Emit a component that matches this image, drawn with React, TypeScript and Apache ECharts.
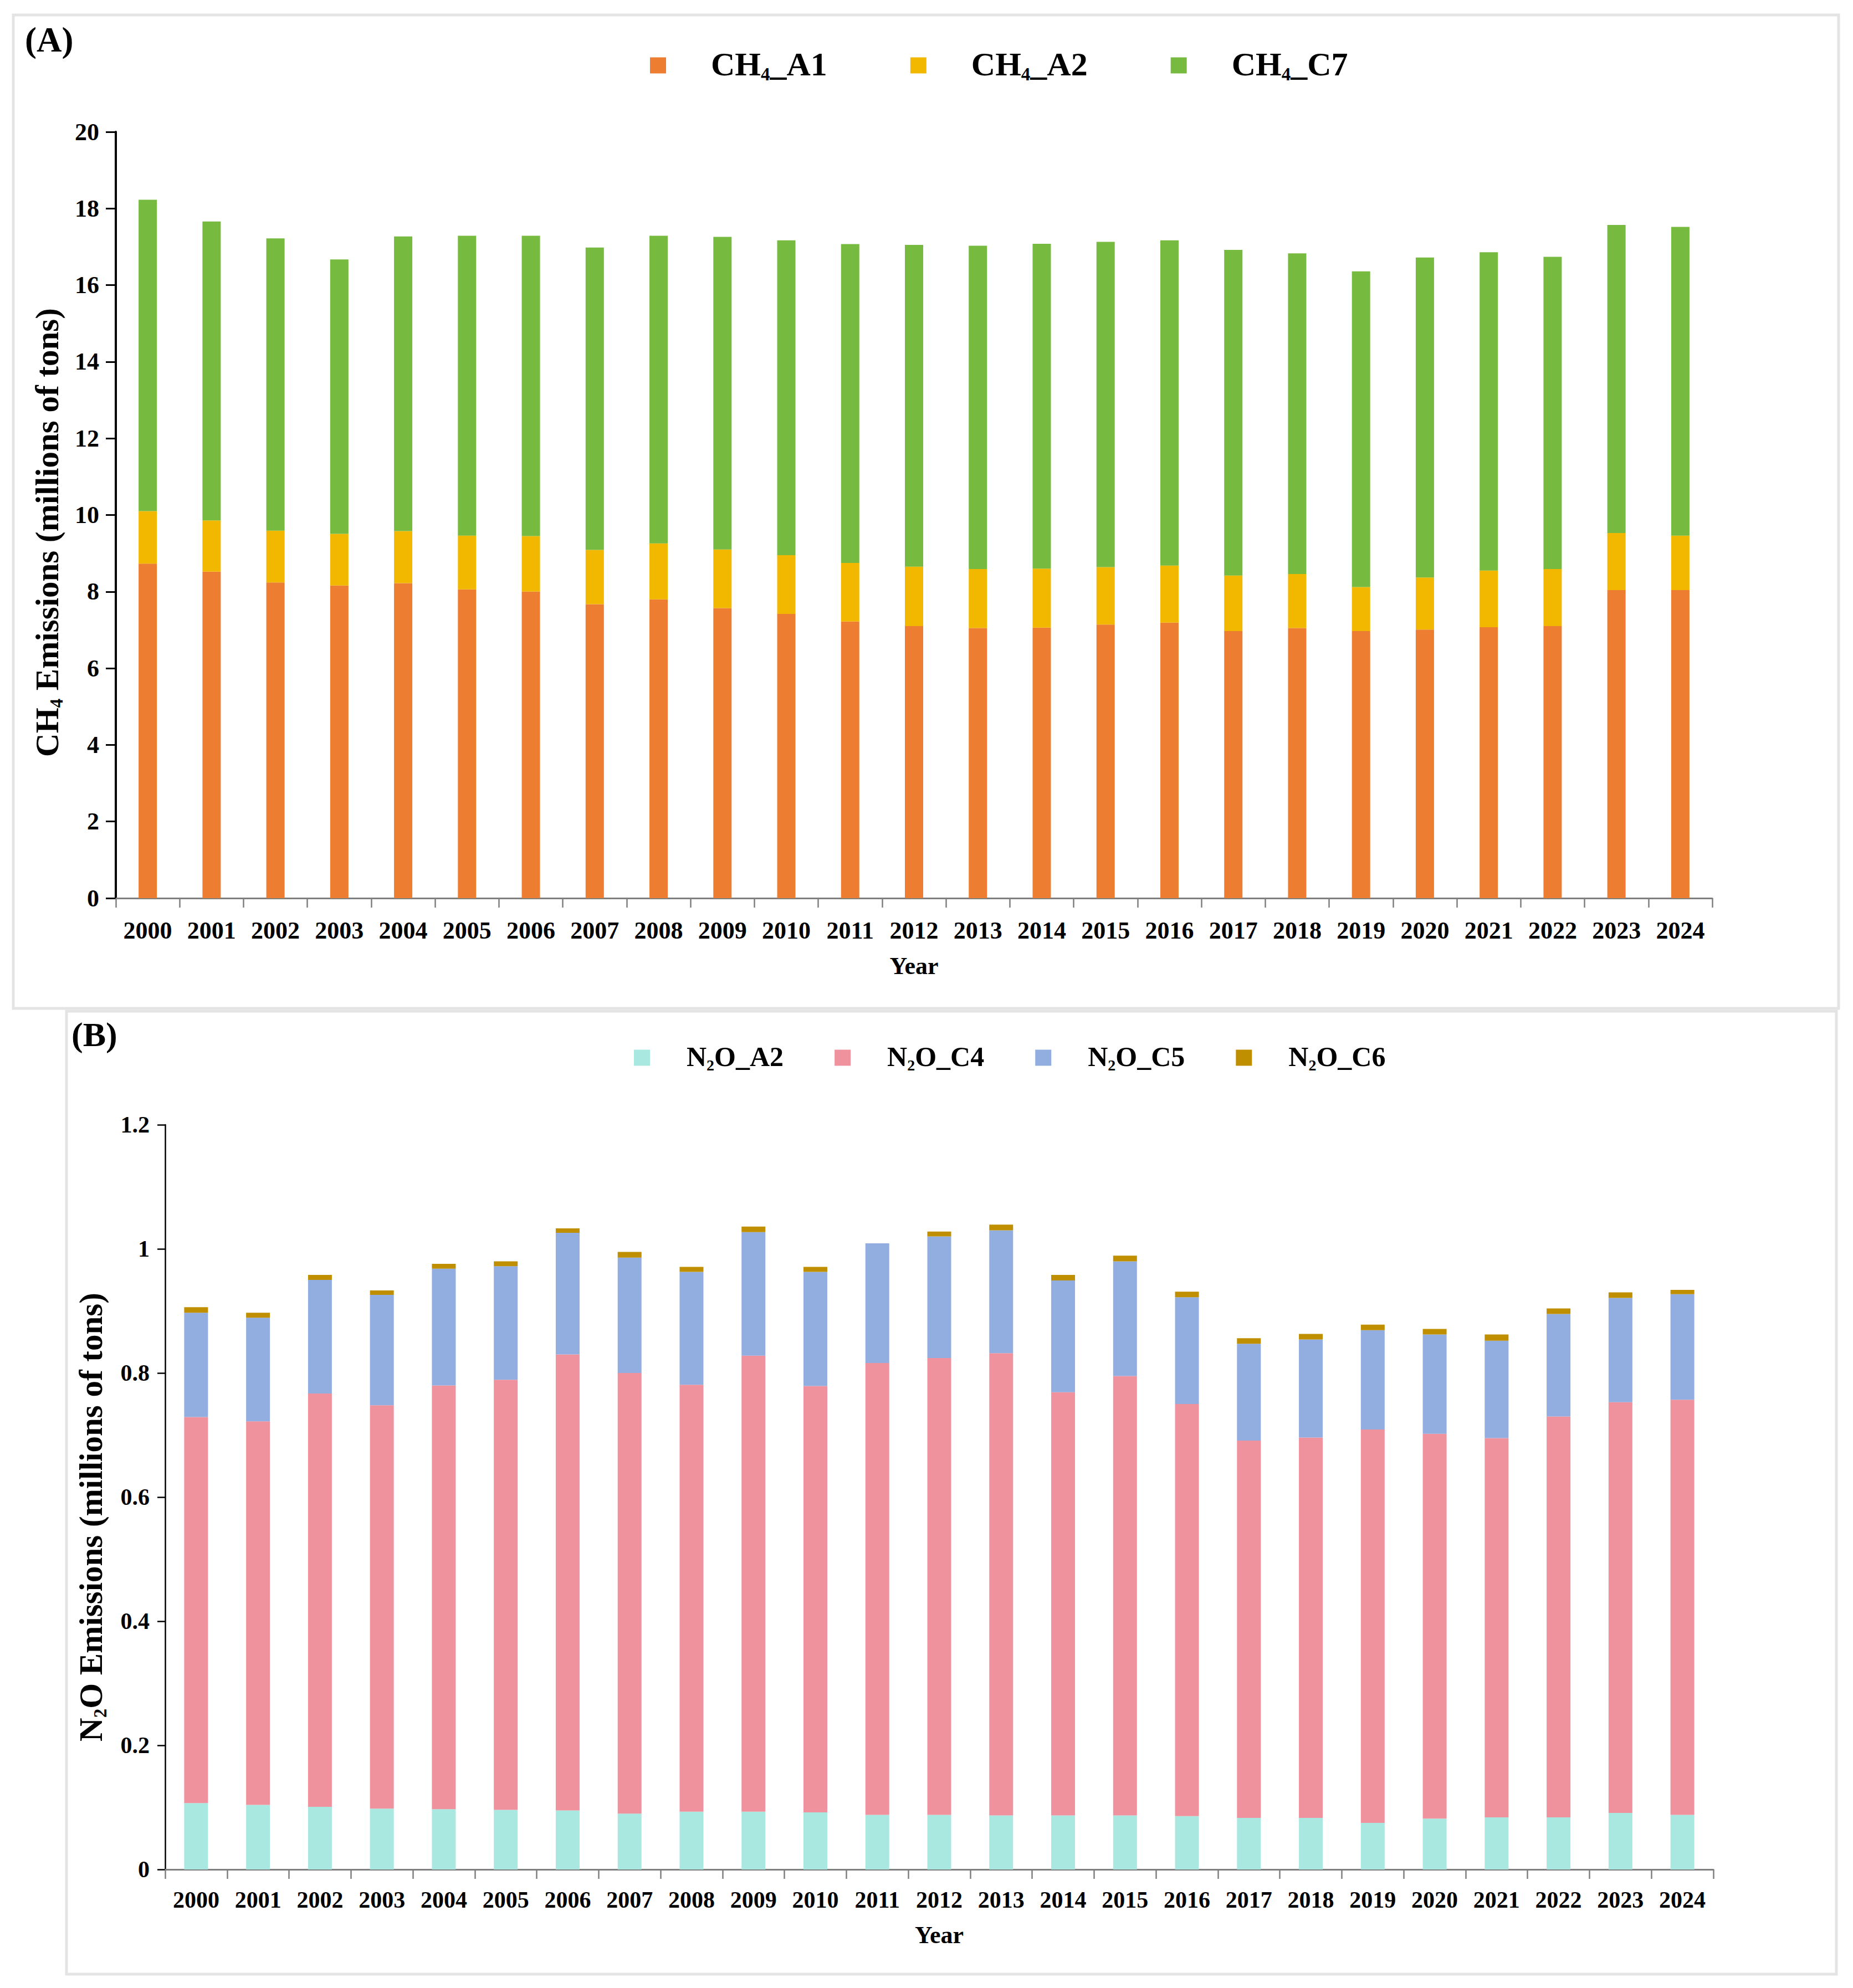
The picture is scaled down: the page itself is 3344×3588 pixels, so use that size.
import React, { useEffect, useRef } from "react";
import * as echarts from "echarts";

const years = ["2000","2001","2002","2003","2004","2005","2006","2007","2008","2009","2010","2011","2012","2013","2014","2015","2016","2017","2018","2019","2020","2021","2022","2023","2024"];

// Panel A (CH4, millions of tons)
const ch4A1 = [8.73,8.52,8.24,8.16,8.22,8.06,8.00,7.67,7.80,7.57,7.42,7.22,7.10,7.05,7.06,7.14,7.19,6.97,7.05,6.97,7.01,7.07,7.10,8.04,8.04];
const ch4A2 = [1.37,1.34,1.35,1.35,1.36,1.40,1.45,1.42,1.46,1.53,1.53,1.53,1.55,1.54,1.54,1.50,1.49,1.45,1.41,1.15,1.36,1.48,1.49,1.49,1.42];
const ch4C7 = [8.13,7.80,7.63,7.16,7.69,7.83,7.84,7.89,8.03,8.16,8.22,8.32,8.40,8.44,8.48,8.49,8.49,8.50,8.37,8.24,8.35,8.31,8.15,8.04,8.06];

// Panel B (N2O, millions of tons)
const n2oA2 = [0.107,0.104,0.101,0.098,0.097,0.096,0.095,0.090,0.093,0.093,0.092,0.088,0.088,0.087,0.087,0.087,0.086,0.083,0.083,0.075,0.082,0.084,0.084,0.091,0.088];
const n2oC4 = [0.622,0.618,0.666,0.650,0.683,0.693,0.735,0.710,0.688,0.735,0.687,0.728,0.736,0.745,0.682,0.708,0.664,0.608,0.613,0.634,0.620,0.611,0.646,0.662,0.669];
const n2oC5 = [0.168,0.167,0.183,0.178,0.188,0.183,0.196,0.186,0.182,0.199,0.184,0.193,0.196,0.198,0.180,0.185,0.172,0.156,0.158,0.160,0.160,0.157,0.165,0.168,0.170];
const n2oC6 = [0.009,0.008,0.008,0.007,0.008,0.008,0.007,0.009,0.008,0.009,0.008,0.000,0.008,0.009,0.009,0.009,0.009,0.009,0.009,0.009,0.009,0.010,0.009,0.009,0.007];

const ch4Names = ["CH4_A1", "CH4_A2", "CH4_C7"];
const n2oNames = ["N2O_A2", "N2O_C4", "N2O_C5", "N2O_C6"];

const ch4Colors = ["#ED7D31", "#F2B800", "#76BB40"];
const n2oColors = ["#A9E8E1", "#EF929D", "#92ADE0", "#BF8F00"];

const FONT = '"Liberation Serif", "Times New Roman", serif';

function richSet(main: number, sub: number, pad: number, spacer: number) {
  return {
    sp: { width: spacer, fontSize: main, lineHeight: main + 4, verticalAlign: "top" },
    t: { fontSize: main, fontWeight: "bold", fontFamily: FONT, color: "#000", fill: "#000", lineHeight: main + 4, verticalAlign: "top" },
    s: { fontSize: sub, fontWeight: "bold", fontFamily: FONT, color: "#000", fill: "#000", lineHeight: sub, verticalAlign: "bottom", padding: [pad, 0, 0, 0] },
  };
}

function chemRich(name: string): string {
  // e.g. CH4_A1 -> CH {4} _A1 ; N2O_A2 -> N {2} O_A2
  const m = name.match(/^([A-Z]+)(\d)(.*)$/);
  if (!m) return "{t|" + name + "}";
  return "{sp| }{t|" + m[1] + "}{s|" + m[2] + "}{t|" + m[3] + "}";
}

export default function App() {
  const ref = useRef<HTMLDivElement>(null);
  useEffect(() => {
    if (!ref.current) return;
    const chart = echarts.init(ref.current, undefined, { renderer: "svg" });

    const barSeriesA = ch4Names.map((n, i) => ({
      name: n,
      type: "bar",
      stack: "ch4",
      xAxisIndex: 0,
      yAxisIndex: 0,
      barWidth: 33,
      data: [ch4A1, ch4A2, ch4C7][i],
      itemStyle: { color: ch4Colors[i] },
      emphasis: { disabled: true },
    }));
    const barSeriesB = n2oNames.map((n, i) => ({
      name: n,
      type: "bar",
      stack: "n2o",
      xAxisIndex: 1,
      yAxisIndex: 1,
      barWidth: 43,
      data: [n2oA2, n2oC4, n2oC5, n2oC6][i],
      itemStyle: { color: n2oColors[i] },
      emphasis: { disabled: true },
    }));

    const xAxisCommon = (fontSize: number, margin: number, nameGap: number) => ({
      type: "category",
      data: years,
      axisLine: { show: true, lineStyle: { color: "#7f7f7f", width: 3 } },
      axisTick: { show: true, length: 17, interval: 0, lineStyle: { color: "#7f7f7f", width: 2.5 } },
      axisLabel: { interval: 0, margin, color: "#000", fontFamily: FONT, fontWeight: "bold", fontSize },
      splitLine: { show: false },
      name: "Year",
      nameLocation: "middle",
      nameGap,
      nameTextStyle: { color: "#000", fontFamily: FONT, fontWeight: "bold", fontSize: 44 },
    });

    const yTitleA = "{t|CH}{s|4}{t| Emissions (millions of tons)}";
    const yTitleB = "{t|N}{s|2}{t|O Emissions (millions of tons)}";

    const option: any = {
      animation: false,
      backgroundColor: "#ffffff",
      grid: [
        { left: 209, top: 238, width: 2881, height: 1383 },
        { left: 298, top: 2030, width: 2794, height: 1344 },
      ],
      legend: [
        {
          data: ch4Names,
          left: 1168,
          top: 70,
          icon: "rect",
          itemWidth: 29,
          itemHeight: 29,
          itemGap: 150,
          selectedMode: false,
          formatter: chemRich,
          textStyle: { rich: richSet(60, 33, 42, 76) },
        },
        {
          data: n2oNames,
          left: 1139,
          top: 1867,
          icon: "rect",
          itemWidth: 29,
          itemHeight: 29,
          itemGap: 92,
          selectedMode: false,
          formatter: chemRich,
          textStyle: { rich: richSet(50, 28, 36, 61) },
        },
      ],
      xAxis: [
        { gridIndex: 0, ...xAxisCommon(44, 36, 100) },
        { gridIndex: 1, ...xAxisCommon(42, 34, 96) },
      ],
      yAxis: [
        {
          gridIndex: 0,
          type: "value",
          min: 0,
          max: 20,
          interval: 2,
          axisLine: { show: true, lineStyle: { color: "#000", width: 4 } },
          axisTick: { show: true, length: 18, lineStyle: { color: "#000", width: 3 } },
          axisLabel: { margin: 30, color: "#000", fontFamily: FONT, fontWeight: "bold", fontSize: 44 },
          splitLine: { show: false },
        },
        {
          gridIndex: 1,
          type: "value",
          min: 0,
          max: 1.2,
          interval: 0.2,
          axisLine: { show: true, lineStyle: { color: "#000", width: 2.5 } },
          axisTick: { show: true, length: 14, lineStyle: { color: "#000", width: 2.5 } },
          axisLabel: { margin: 28, color: "#000", fontFamily: FONT, fontWeight: "bold", fontSize: 42 },
          splitLine: { show: false },
        },
      ],
      graphic: [
        { type: "rect", shape: { x: 24, y: 27, width: 3294, height: 1793 }, style: { fill: "none", stroke: "#e4e4e4", lineWidth: 5 }, z: -10 },
        { type: "rect", shape: { x: 120, y: 1825, width: 3194, height: 1738 }, style: { fill: "none", stroke: "#e4e4e4", lineWidth: 5 }, z: -10 },
        { type: "text", x: 45, y: 40, style: { text: "(A)", fontFamily: FONT, fontWeight: "bold", fontSize: 63, fill: "#000" } },
        { type: "text", x: 129, y: 1836, style: { text: "(B)", fontFamily: FONT, fontWeight: "bold", fontSize: 62, fill: "#000" } },
        {
          type: "text",
          x: 87,
          y: 961,
          rotation: Math.PI / 2,
          style: { text: yTitleA, rich: richSet(59, 33, 42, 0), align: "center", verticalAlign: "middle", fill: "#000" },
        },
        {
          type: "text",
          x: 166,
          y: 2738,
          rotation: Math.PI / 2,
          style: { text: yTitleB, rich: richSet(59, 33, 42, 0), align: "center", verticalAlign: "middle", fill: "#000" },
        },
      ],
      series: [...barSeriesA, ...barSeriesB],
    };

    chart.setOption(option);
    return () => chart.dispose();
  }, []);

  return (
    <div
      ref={ref}
      style={{ position: "absolute", left: 0, top: 0, width: 3344, height: 3588, background: "#fff" }}
    />
  );
}
